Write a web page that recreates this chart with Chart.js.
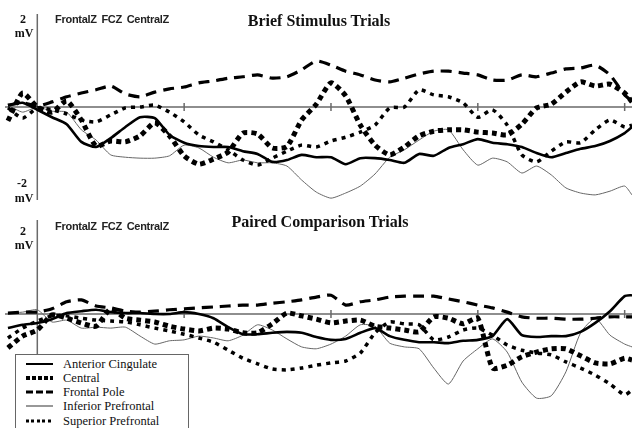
<!DOCTYPE html>
<html><head><meta charset="utf-8">
<script src="https://cdn.jsdelivr.net/npm/chart.js@4.4.0/dist/chart.umd.min.js"></script>
<style>
html,body{margin:0;padding:0;background:#fff;}
body{width:632px;height:428px;overflow:hidden;position:relative;}
.panel{position:absolute;left:0;width:632px;}
#p1{top:0;height:210px;}
#p2{top:210px;height:218px;}
canvas{display:block;}
.t{position:absolute;transform:translate(-50%,-50%);white-space:nowrap;color:#111;}
.ser{font-family:"Liberation Serif","Times New Roman",serif;font-weight:bold;}
.lab{font-size:12px;}
.ttl{font-size:16px;}
.san{font-family:"Liberation Sans",Arial,sans-serif;font-size:11px;font-weight:bold;color:#222;word-spacing:2px;letter-spacing:-0.3px;}
#legend{position:absolute;left:15px;top:354px;width:172px;height:90px;border:1px solid #666;background:#fff;}
.row{position:absolute;left:0;height:14px;width:170px;}
.smp{position:absolute;left:10px;width:27px;top:50%;transform:translateY(-50%);}
.lt{position:absolute;left:47px;top:50%;transform:translateY(-50%);font-family:"Liberation Serif","Times New Roman",serif;font-size:12.5px;color:#111;white-space:nowrap;}
</style>
</head><body>
<div id="p1" class="panel"><canvas id="c1" width="632" height="210"></canvas></div>
<div id="p2" class="panel"><canvas id="c2" width="632" height="218"></canvas></div>

<div class="t ser ttl" style="left:319px;top:21px;">Brief Stimulus Trials</div>
<div class="t ser ttl" style="left:320px;top:222px;">Paired Comparison Trials</div>
<div class="t san" style="left:112px;top:19px;">FrontalZ FCZ CentralZ</div>
<div class="t san" style="left:112px;top:226px;">FrontalZ FCZ CentralZ</div>
<div class="t ser lab" style="left:23px;top:19px;">2</div>
<div class="t ser lab" style="left:24px;top:33px;">mV</div>
<div class="t ser lab" style="left:22px;top:183px;">-2</div>
<div class="t ser lab" style="left:24px;top:198px;">mV</div>
<div class="t ser lab" style="left:23px;top:231px;">2</div>
<div class="t ser lab" style="left:24px;top:245px;">mV</div>

<div id="legend"></div>

<script>
// ---- data (time in ms, amplitude in mV) ----
const timeMs = [-40,-20,0,20,40,60,80,100,120,140,160,180,200,220,240,260,280,300,320,340,360,380,400,420,440,460,480,500,520,540,560,580,600,620,640,660,680,700,720,740,760,780,800,810];
const xTickValues = [200,400,600,800];
const seriesNames = ["Anterior Cingulate","Central","Frontal Pole","Inferior Prefrontal","Superior Prefrontal"];
const panelTitles = ["Brief Stimulus Trials","Paired Comparison Trials"];

const briefAnteriorCingulate = [0.04,0.09,-0.06,-0.22,-0.37,-0.75,-0.86,-0.67,-0.43,-0.22,-0.24,-0.60,-0.77,-0.84,-0.86,-0.86,-0.95,-1.01,-1.18,-1.14,-1.03,-1.08,-1.08,-1.23,-1.10,-1.10,-1.14,-1.20,-1.01,-1.05,-0.88,-0.80,-0.69,-0.77,-0.80,-0.86,-0.99,-1.08,-0.99,-0.90,-0.84,-0.73,-0.56,-0.43];
const briefCentral = [-0.30,0.30,0,-0.11,0.13,-0.28,-0.84,-0.73,-0.75,-0.62,-0.34,-0.62,-1.05,-1.23,-1.12,-0.97,-0.56,-0.58,-0.88,-0.85,-0.28,0.06,0.52,0.24,-0.39,-0.82,-1.03,-0.86,-0.62,-0.52,-0.49,-0.49,-0.54,-0.56,-0.60,-0.37,-0.02,0.06,0.32,0.54,0.45,0.49,0.30,0.11];
const briefFrontalPole = [0.04,0.09,0.02,0.11,0.22,0.30,0.37,0.45,0.28,0.22,0.32,0.39,0.43,0.52,0.56,0.62,0.65,0.69,0.62,0.65,0.80,0.99,0.90,0.77,0.69,0.58,0.54,0.62,0.71,0.77,0.77,0.73,0.69,0.58,0.58,0.69,0.65,0.73,0.82,0.84,0.90,0.69,0.26,0.13];
const briefInferiorPrefrontal = [0.04,-0.11,0,-0.09,-0.11,-0.49,-0.71,-1.03,-1.08,-1.10,-1.10,-1.05,-0.82,-0.88,-1.08,-1.20,-1.14,-1.20,-1.20,-1.27,-1.57,-1.83,-1.96,-1.85,-1.70,-1.44,-1.08,-0.92,-0.71,-0.52,-0.49,-0.92,-1.25,-1.10,-1.18,-1.42,-1.27,-1.46,-1.74,-1.85,-1.89,-1.81,-1.70,-1.89];
const briefSuperiorPrefrontal = [-0.02,-0.24,-0.02,-0.06,-0.15,-0.28,-0.32,-0.17,-0.02,0.00,0.04,-0.11,-0.32,-0.60,-0.75,-0.92,-1.14,-1.25,-1.10,-0.95,-0.82,-0.86,-0.73,-0.65,-0.54,-0.39,-0.02,0.00,0.37,0.26,0.22,0.09,-0.22,-0.06,-0.39,-1.03,-1.18,-0.95,-0.75,-0.77,-0.49,-0.28,-0.43,-0.39];

const pairedAnteriorCingulate = [-0.30,-0.23,-0.19,-0.11,0.02,0.06,0.09,0.04,0.02,0.02,0,0,0.04,0,-0.09,-0.28,-0.43,-0.43,-0.40,-0.38,-0.40,-0.49,-0.55,-0.53,-0.40,-0.30,-0.47,-0.55,-0.60,-0.60,-0.62,-0.57,-0.55,-0.47,-0.11,-0.45,-0.49,-0.47,-0.47,-0.38,-0.19,0.06,0.38,0.40];
const pairedCentral = [-0.72,-0.47,-0.34,-0.02,-0.09,-0.19,-0.26,0.11,-0.09,-0.13,-0.17,-0.26,-0.32,-0.36,-0.30,-0.32,-0.40,-0.40,-0.21,0.02,-0.04,-0.11,-0.19,-0.15,-0.13,-0.26,-0.30,-0.34,-0.38,-0.06,-0.09,-0.21,-0.09,-1.15,-1.09,-0.91,-0.81,-0.74,-0.74,-0.89,-1.04,-1.06,-0.94,-0.98];
const pairedFrontalPole = [0.02,0.04,0.04,0.11,0.26,0.30,0.17,0.13,0.06,0.04,0.06,0.09,0.11,0.13,0.15,0.17,0.19,0.19,0.23,0.26,0.30,0.36,0.40,0.19,0.26,0.30,0.36,0.38,0.38,0.38,0.32,0.26,0.19,0.13,0.04,-0.06,-0.09,-0.09,-0.11,-0.11,-0.09,-0.06,-0.06,-0.06];
const pairedInferiorPrefrontal = [0.02,0.04,0.09,-0.17,-0.13,-0.30,-0.28,-0.30,-0.28,-0.47,-0.64,-0.57,-0.55,-0.47,-0.51,-0.57,-0.45,-0.23,-0.34,-0.53,-0.70,-0.74,-0.64,-0.47,-0.23,-0.26,-0.62,-0.70,-0.74,-1.15,-1.49,-1.00,-0.74,-0.53,-0.81,-1.45,-1.79,-1.74,-1.23,-0.40,-0.09,-0.45,-0.64,-0.70];
const pairedSuperiorPrefrontal = [-0.51,-0.30,-0.15,-0.04,-0.04,-0.09,-0.13,-0.15,-0.17,-0.23,-0.30,-0.36,-0.43,-0.51,-0.60,-0.77,-0.94,-1.06,-1.17,-1.19,-1.15,-1.09,-1.04,-1.00,-0.83,-0.40,-0.17,-0.21,-0.23,-0.55,-0.49,-0.34,-0.30,-0.45,-0.66,-0.77,-0.83,-0.87,-1.02,-1.15,-1.30,-1.49,-1.72,-1.62];

// ---- styles ----
const lineStyles = [
  {w:2.6, dash:[], color:'#000'},
  {w:5, dash:[5,4], color:'#000'},
  {w:3.2, dash:[11,7], color:'#000'},
  {w:1, dash:[], color:'#666'},
  {w:3.5, dash:[4,5], color:'#000'}
];

const axesPlugin = {
  id:'eegAxes',
  beforeDatasetsDraw(chart){
    const {ctx, chartArea:a, scales:{x,y}} = chart;
    const y0 = y.getPixelForValue(0), x0 = x.getPixelForValue(0);
    ctx.save();
    ctx.strokeStyle='#6a6a6a'; ctx.lineWidth=1.5;
    ctx.beginPath();
    ctx.moveTo(a.left,y0); ctx.lineTo(a.right,y0);
    ctx.moveTo(x0,a.top); ctx.lineTo(x0,a.bottom);
    xTickValues.forEach(v=>{const px=x.getPixelForValue(v); ctx.moveTo(px,y0-4); ctx.lineTo(px,y0+4);});
    ctx.stroke();
    ctx.restore();
  }
};

function makeChart(id, seriesList, pad){
  const datasets = seriesList.map((vals,i)=>({
    label: seriesNames[i],
    data: vals.map((v,k)=>({x:timeMs[k], y:v})),
    borderColor: lineStyles[i].color,
    borderWidth: lineStyles[i].w,
    borderDash: lineStyles[i].dash,
    borderCapStyle:'butt',
    pointRadius:0,
    tension:0.2,
    fill:false,
    order: i===3 ? 10 : i
  }));
  return new Chart(document.getElementById(id), {
    type:'line',
    data:{datasets},
    options:{
      responsive:false, animation:false, devicePixelRatio:1,
      layout:{padding:pad},
      plugins:{legend:{display:false}, tooltip:{enabled:false}, title:{display:false}},
      scales:{
        x:{type:'linear', min:-44, max:810, display:false},
        y:{type:'linear', min:-2, max:2, display:false}
      }
    },
    plugins:[axesPlugin]
  });
}

makeChart('c1', [briefAnteriorCingulate, briefCentral, briefFrontalPole, briefInferiorPrefrontal, briefSuperiorPrefrontal], {left:5,right:0,top:14,bottom:10});
makeChart('c2', [pairedAnteriorCingulate, pairedCentral, pairedFrontalPole, pairedInferiorPrefrontal, pairedSuperiorPrefrontal], {left:5,right:0,top:10,bottom:20});

// ---- legend ----
const legendSamples = [
  'height:2px;background:#000;',
  'height:4px;background:repeating-linear-gradient(90deg,#000 0 4px,transparent 4px 6px);',
  'height:3px;background:repeating-linear-gradient(90deg,#000 0 7px,transparent 7px 10px);',
  'height:1px;background:#333;',
  'height:3px;background:repeating-linear-gradient(90deg,#000 0 3px,transparent 3px 5.5px);'
];
const rowCenters = [9,23,37,51,66];
const leg = document.getElementById('legend');
seriesNames.forEach((n,i)=>{
  const r = document.createElement('div');
  r.className='row'; r.style.top=(rowCenters[i]-7)+'px';
  const s = document.createElement('div'); s.className='smp'; s.style.cssText += legendSamples[i];
  const t = document.createElement('div'); t.className='lt'; t.textContent=n;
  r.appendChild(s); r.appendChild(t); leg.appendChild(r);
});
</script>
</body></html>
